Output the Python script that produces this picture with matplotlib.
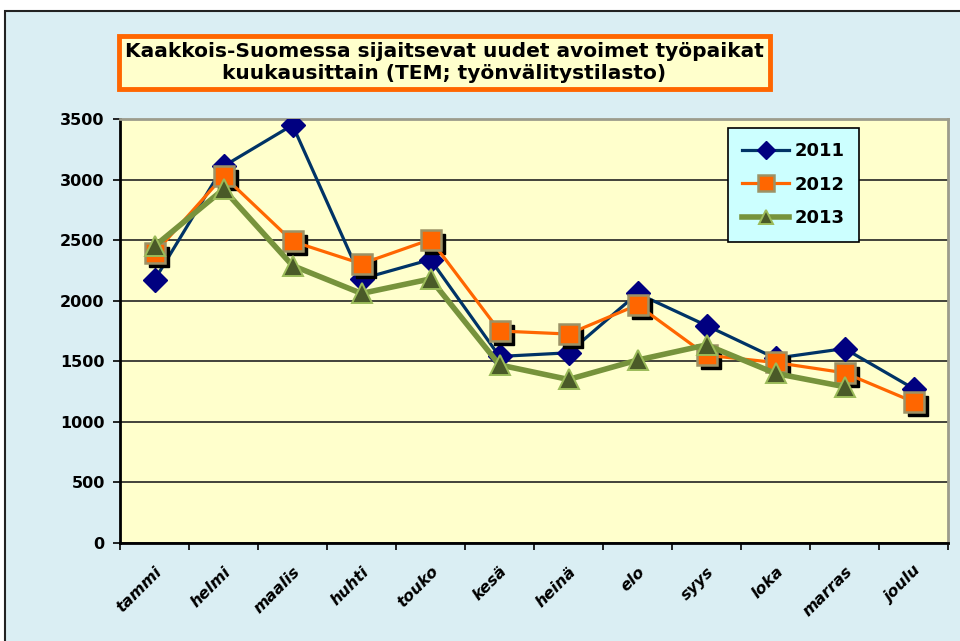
import numpy as np
import matplotlib.pyplot as plt
from matplotlib import transforms
from matplotlib.patches import Rectangle

plt.rcParams['font.family'] = ['DejaVu Sans']

# data
months = ['tammi', 'helmi', 'maalis', 'huhti', 'touko', 'kesä',
          'heinä', 'elo', 'syys', 'loka', 'marras', 'joulu']
y2011 = [2170, 3110, 3450, 2180, 2340, 1540, 1570, 2060, 1795, 1525, 1605, 1275]
y2012 = [2390, 3030, 2490, 2305, 2505, 1750, 1725, 1965, 1550, 1490, 1405, 1165]
y2013 = [2450, 2920, 2290, 2060, 2180, 1470, 1350, 1510, 1635, 1400, 1290]
yticks = [0, 500, 1000, 1500, 2000, 2500, 3000, 3500]

BG_OUTER = '#DAEEF3'
PLOT_BG = '#FFFFCC'
NAVY = '#000080'
DARK_BLUE = '#003366'
ORANGE = '#FF6600'
OLIVE = '#77933C'
OLIVE_DARK = '#4A5A28'

fig = plt.figure(figsize=(9.6, 6.41), dpi=100)
fig.patch.set_facecolor('white')

# outer chart area box (runs off the right and bottom edges like the source)
fig.patches.append(Rectangle((5 / 960, -0.05), 1.2, 1 - 11 / 641 + 0.05,
                             transform=fig.transFigure, facecolor=BG_OUTER,
                             edgecolor='#222222', linewidth=1.5, zorder=-5))

ax = fig.add_axes([120 / 960, 1 - 543 / 641, 828 / 960, 424 / 641])
ax.set_zorder(1)
ax.set_facecolor(PLOT_BG)

x = np.arange(len(months))

ax.plot(x, y2011, color=DARK_BLUE, linewidth=2.3, marker='D', markersize=12,
        markerfacecolor=NAVY, markeredgecolor=NAVY, zorder=3, label='2011')

shadow = transforms.offset_copy(ax.transData, fig=fig, x=4, y=-4, units='dots')
ax.plot(x, y2012, linestyle='none', marker='s', markersize=15,
        markerfacecolor='black', markeredgecolor='black',
        transform=shadow, zorder=3.5)
ax.plot(x, y2012, color=ORANGE, linewidth=2.3, marker='s', markersize=15,
        markerfacecolor=ORANGE, markeredgecolor='#9C9266', markeredgewidth=1.8,
        zorder=4, label='2012')

ax.plot(x[:len(y2013)], y2013, color=OLIVE, linewidth=4, marker='^',
        markersize=14, markerfacecolor=OLIVE_DARK, markeredgecolor='#9BBB59',
        markeredgewidth=1.4, zorder=5, label='2013')

ax.set_xlim(-0.5, len(months) - 0.5)
ax.set_ylim(0, 3500)
ax.set_yticks(yticks)
ax.set_yticklabels([str(v) for v in yticks], fontsize=11.5, fontweight='bold')
ax.set_xticks(x)
ax.set_xticklabels(months, fontsize=11.5, fontweight='bold', style='italic',
                   rotation=45, ha='right', rotation_mode='anchor')
ax.set_xticks(np.arange(len(months) + 1) - 0.5, minor=True)
ax.tick_params(axis='x', which='major', length=0, pad=15)
ax.tick_params(axis='x', which='minor', length=5, width=1.2, direction='out')
ax.tick_params(axis='y', length=5, width=1.2, direction='out', pad=6)

ax.yaxis.grid(True, color='#222222', linewidth=1.2)
ax.set_axisbelow(True)
ax.spines['left'].set_linewidth(2)
ax.spines['bottom'].set_linewidth(2)
ax.spines['top'].set_color('#9C9C8C')
ax.spines['right'].set_color('#9C9C8C')
ax.spines['top'].set_linewidth(2)
ax.spines['right'].set_linewidth(2)

leg = ax.legend(loc='upper left', bbox_to_anchor=((728 - 120) / 828, (543 - 128) / 424),
                borderaxespad=0, prop={'weight': 'bold', 'size': 13},
                facecolor='#CCFFFF', edgecolor='black', framealpha=1,
                fancybox=False, handlelength=2.6, labelspacing=0.85,
                borderpad=0.8, handletextpad=0.3, markerscale=0.75)
leg.get_frame().set_linewidth(1.2)

fig.text(444.5 / 960, 1 - 62.5 / 641,
         'Kaakkois-Suomessa sijaitsevat uudet avoimet työpaikat\n'
         'kuukausittain (TEM; työnvälitystilasto)',
         ha='center', va='center', fontsize=14.5, fontweight='bold',
         linespacing=1.2, zorder=5,
         bbox=dict(boxstyle='square,pad=0.3', facecolor=PLOT_BG,
                   edgecolor=ORANGE, linewidth=3.5))

fig.savefig('out.png', dpi=100, facecolor=fig.get_facecolor())
